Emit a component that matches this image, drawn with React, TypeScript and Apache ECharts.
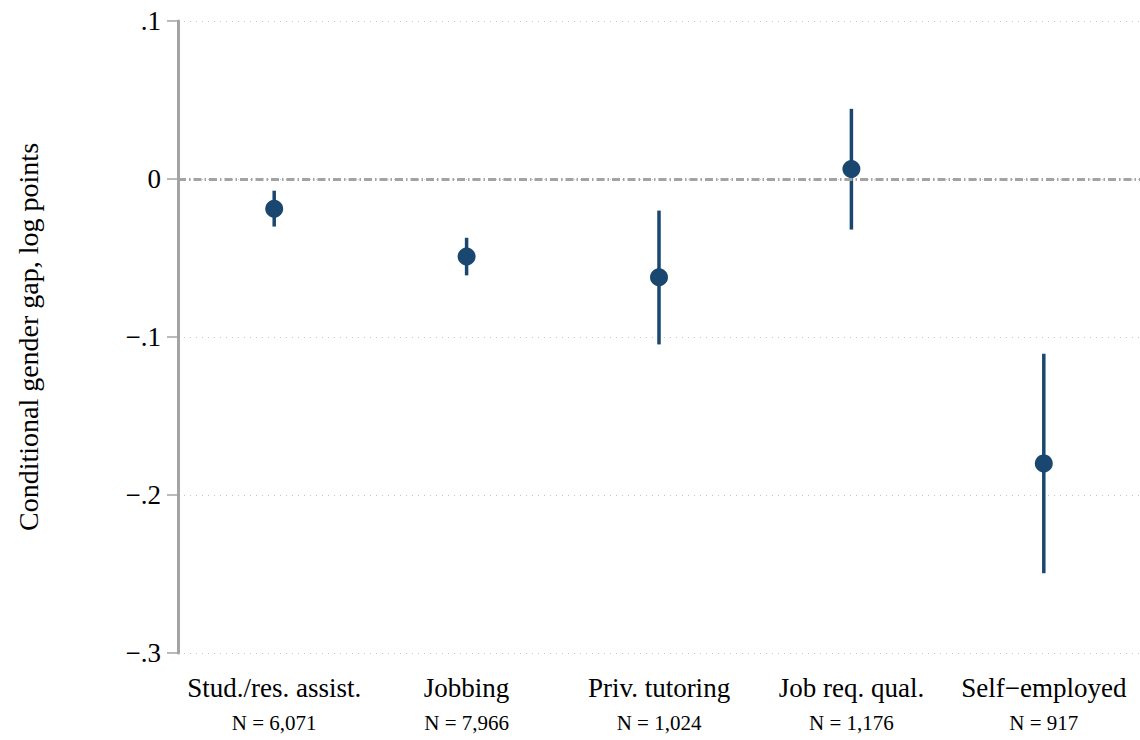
import React, { useEffect, useRef } from "react";
import * as echarts from "echarts";

const categories = ["Stud./res. assist.", "Jobbing", "Priv. tutoring", "Job req. qual.", "Self\u2212employed"];
const nLabels = ["N = 6,071", "N = 7,966", "N = 1,024", "N = 1,176", "N = 917"];
const estimates = [-0.0188, -0.0491, -0.0622, 0.0063, -0.18];
const ciLow = [-0.0301, -0.061, -0.1047, -0.032, -0.2495];
const ciHigh = [-0.0074, -0.0372, -0.02, 0.0444, -0.1106];
const yTicks = [-0.3, -0.2, -0.1, 0, 0.1];

const NAVY = "#1a476f";
const GREY = "#a3a3a3";
const FONT = "Liberation Serif";

function fmtTick(v: number): string {
  const r = Math.round(v * 10) / 10;
  if (r === 0) return "0";
  const s = Math.abs(r).toString().replace(/^0/, "");
  return r < 0 ? "\u2212" + s : s;
}

export default function App() {
  const ref = useRef<HTMLDivElement>(null);
  useEffect(() => {
    if (!ref.current) return;
    const chart = echarts.init(ref.current, null, { renderer: "svg" });
    const option: any = {
      animation: false,
      backgroundColor: "#ffffff",
      grid: { left: 178, top: 21, bottom: 87, width: 965, containLabel: false },
      xAxis: {
        type: "category",
        data: categories,
        boundaryGap: true,
        axisLine: { show: false },
        axisTick: { show: false },
        splitLine: { show: false },
        axisLabel: {
          interval: 0,
          margin: 19,
          formatter: (v: string, i: number) => `{a|${v}}\n{b|${nLabels[i]}}`,
          rich: {
            a: { fontFamily: FONT, fontSize: 27, color: "#000", lineHeight: 32 },
            b: { fontFamily: FONT, fontSize: 21, color: "#000", lineHeight: 38 },
          },
        },
      },
      yAxis: {
        type: "value",
        min: yTicks[0],
        max: yTicks[yTicks.length - 1],
        interval: 0.1,
        name: "Conditional gender gap, log points",
        nameLocation: "middle",
        nameGap: 136,
        nameRotate: 90,
        nameTextStyle: { fontFamily: FONT, fontSize: 28, color: "#000" },
        axisLine: { show: true, lineStyle: { color: GREY, width: 3 } },
        axisTick: { show: true, length: 11, lineStyle: { color: GREY, width: 1.5 } },
        axisLabel: {
          margin: 17,
          formatter: (v: number) => fmtTick(v),
          fontFamily: FONT,
          fontSize: 27,
          color: "#000",
        },
        splitLine: { show: true, lineStyle: { color: "#c4c4c4", width: 1, type: [1, 5] } },
      },
      series: [
        {
          type: "custom",
          z: 2,
          data: categories.map((_, i) => [i, ciLow[i], ciHigh[i]]),
          renderItem: (params: any, api: any) => {
            const p1 = api.coord([api.value(0), api.value(1)]);
            const p2 = api.coord([api.value(0), api.value(2)]);
            return {
              type: "line",
              shape: { x1: p1[0], y1: p1[1], x2: p2[0], y2: p2[1] },
              style: { stroke: NAVY, lineWidth: 3.5 },
            };
          },
          markLine: {
            silent: true,
            symbol: "none",
            label: { show: false },
            lineStyle: { color: GREY, width: 3, type: [8, 3, 1.5, 3], opacity: 1 },
            data: [{ yAxis: 0 }],
          },
        },
        {
          type: "scatter",
          z: 5,
          symbol: "circle",
          symbolSize: 18,
          itemStyle: { color: NAVY, opacity: 1 },
          data: categories.map((_, i) => [i, estimates[i]]),
        },
      ],
    };
    chart.setOption(option);
    return () => chart.dispose();
  }, []);
  return (
    <div
      ref={ref}
      style={{ position: "absolute", left: 0, top: 0, width: 1140, height: 740 }}
    />
  );
}
